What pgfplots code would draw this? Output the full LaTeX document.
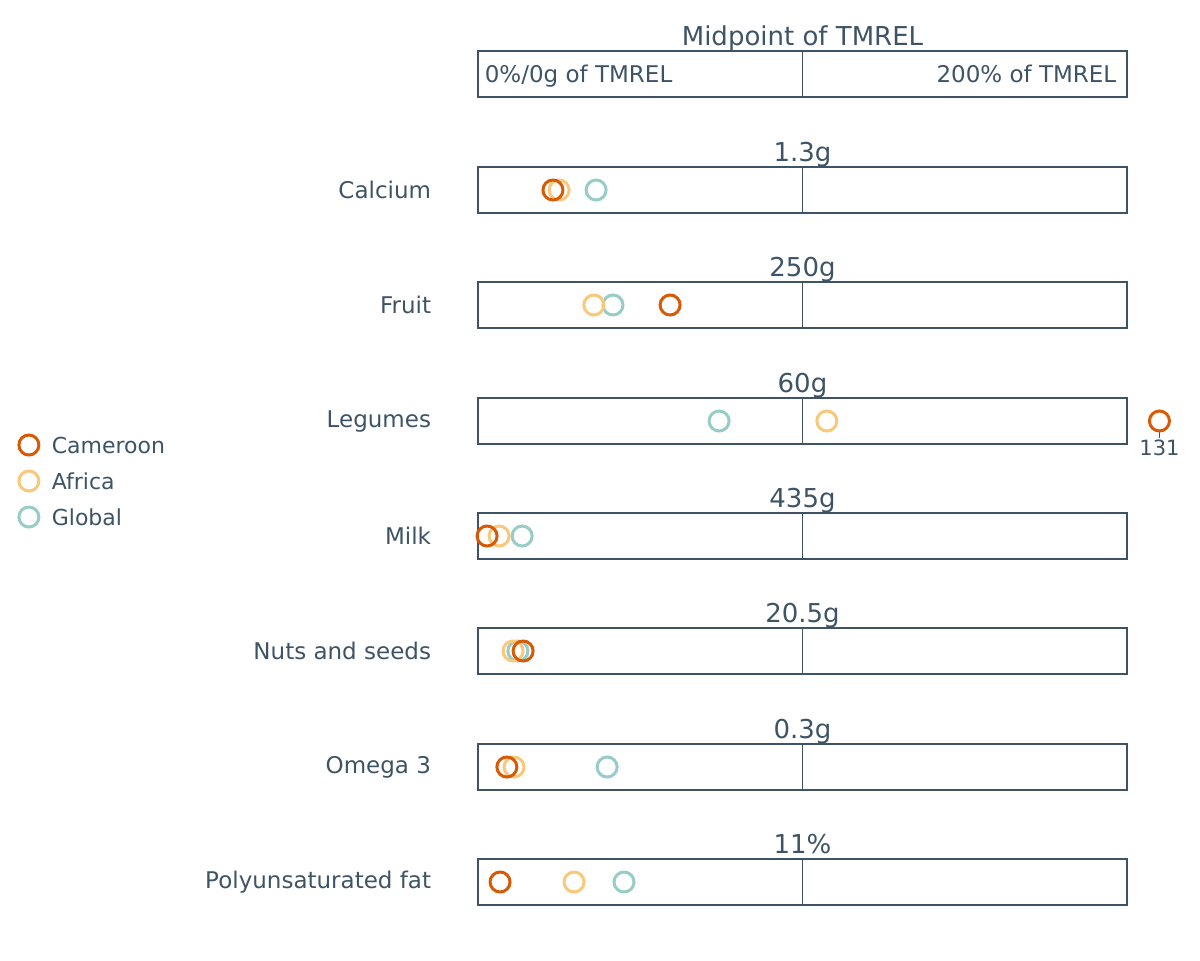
\documentclass[border=0pt]{standalone}
\usepackage{pgfplots}
\pgfplotsset{compat=1.18}
\usepackage{fontspec}
\setmainfont{DejaVu Sans}
\definecolor{cam}{HTML}{D95A06}
\definecolor{afr}{HTML}{FAC87A}
\definecolor{glo}{HTML}{98CCC6}
\definecolor{txt}{HTML}{3E5466}
\begin{document}
\begin{tikzpicture}
\begin{axis}[name=ax, scale only axis, width=600pt, height=480pt, xmin=-147.3, xmax=222.5, ymin=0, ymax=960, y dir=reverse, axis lines=none, clip=false,
  every axis plot/.append style={only marks, mark=o, mark size=5pt, line width=1.5pt}]
\foreach \y/\lab/\val in {190/Calcium/1.3g,305/Fruit/250g,421/Legumes/60g,536/Milk/435g,651/Nuts and seeds/20.5g,767/Omega 3/0.3g,882/Polyunsaturated fat/11\%}{
  \edef\tmp{\noexpand\draw[txt, line width=0.6pt] (axis cs:0,\y-23) rectangle (axis cs:200,\y+23);
  \noexpand\draw[txt, line width=0.6pt] (axis cs:100,\y-23) -- (axis cs:100,\y+23);
  \noexpand\node[txt, anchor=east, font=\noexpand\fontsize{11.5}{13}\noexpand\selectfont] at (axis cs:-12.3,\y) {\lab};
  \noexpand\node[txt, anchor=base, font=\noexpand\fontsize{13}{15}\noexpand\selectfont] at (axis cs:100,\y-29) {\val};}
  \tmp
}
\draw[txt, line width=0.6pt] (axis cs:0,51) rectangle (axis cs:200,97);
\draw[txt, line width=0.6pt] (axis cs:100,51) -- (axis cs:100,97);
\node[txt, anchor=base, font=\fontsize{13}{15}\selectfont] at (axis cs:100,45) {Midpoint of TMREL};
\node[txt, anchor=base, font=\fontsize{11.5}{13}\selectfont] at (axis cs:31,82) {0\%/0g of TMREL};
\node[txt, anchor=base, font=\fontsize{11.5}{13}\selectfont] at (axis cs:169,82) {200\% of TMREL};
\draw[txt, line width=0.6pt] (axis cs:210,431) -- (axis cs:210,438);
\node[txt, anchor=base, font=\fontsize{10.5}{12}\selectfont] at (axis cs:210,455) {131};
\addplot[glo] coordinates {(36.4,190)(41.6,305)(74.3,421)(13.6,536)(12.3,651)(39.8,767)(45,882)};
\addplot[afr] coordinates {(25,190)(35.7,305)(107.5,421)(6.5,536)(10.8,651)(11.1,767)(29.6,882)};
\addplot[cam] coordinates {(23.1,190)(59.2,305)(210,421)(2.8,536)(13.9,651)(8.9,767)(6.8,882)};
\addplot[cam] coordinates {(-138.4,445)};
\addplot[afr] coordinates {(-138.4,481)};
\addplot[glo] coordinates {(-138.4,517)};
\foreach \y/\l in {445/Cameroon,481/Africa,517/Global}{
  \edef\tmp{\noexpand\node[txt, anchor=west, font=\noexpand\fontsize{11}{13}\noexpand\selectfont] at (axis cs:-133.5,\y) {\l};}\tmp}
\end{axis}
\pgfresetboundingbox
\useasboundingbox (ax.south west) rectangle (ax.north east);
\end{tikzpicture}
\end{document}
